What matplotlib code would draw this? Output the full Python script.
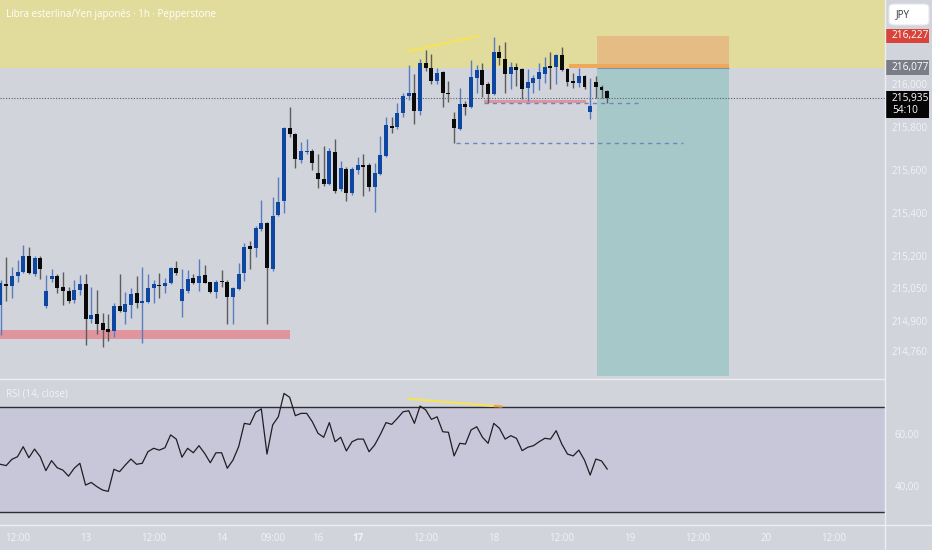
import numpy as np
import matplotlib
matplotlib.use('Agg')
import matplotlib.pyplot as plt
import matplotlib.transforms as mtransforms
from matplotlib.patches import Rectangle, FancyBboxPatch
from matplotlib.lines import Line2D

plt.rcParams['font.family'] = ['Open Sans', 'DejaVu Sans']

# --- OHLC (hourly bars, GBP/JPY) ---
opens = [214.972, 215.070, 215.062, 215.108, 215.126, 215.200, 215.119, 215.189, 214.969, 215.093,
         215.107, 215.054, 215.039, 214.994, 215.042, 215.069, 214.907, 214.930, 214.887, 214.861,
         214.853, 214.968, 214.941, 214.972, 215.027, 214.981, 214.987, 215.050, 215.064, 215.062,
         215.073, 215.143, 214.991, 215.037, 215.096, 215.073, 215.112, 215.078, 215.031, 215.084,
         215.078, 215.008, 215.047, 215.122, 215.247, 215.236, 215.324, 215.352, 215.138, 215.391,
         215.457, 215.797, 215.767, 215.647, 215.684, 215.690, 215.585, 215.558, 215.535, 215.685,
         215.510, 215.603, 215.494, 215.600, 215.623, 215.623, 215.522, 215.582, 215.665, 215.806,
         215.799, 215.864, 215.944, 215.960, 215.876, 216.099, 216.076, 216.016, 216.057, 215.960,
         215.836, 215.791, 215.907, 215.892, 216.027, 216.065, 216.000, 215.954, 216.147, 216.116,
         216.045, 216.078, 216.068, 215.983, 216.006, 216.022, 216.045, 216.081, 216.078, 216.135,
         216.068, 216.014, 216.003, 216.037, 215.871, 216.011, 215.985, 215.968]
highs = [215.088, 215.195, 215.150, 215.181, 215.251, 215.242, 215.201, 215.201, 215.112, 215.140,
         215.119, 215.127, 215.057, 215.088, 215.112, 215.115, 215.057, 215.042, 214.934, 214.929,
         214.980, 215.119, 215.034, 215.050, 215.108, 215.147, 215.115, 215.088, 215.122, 215.096,
         215.150, 215.178, 215.138, 215.135, 215.119, 215.185, 215.158, 215.081, 215.088, 215.135,
         215.088, 215.054, 215.166, 215.262, 215.271, 215.340, 215.461, 215.358, 215.476, 215.566,
         215.801, 215.894, 215.771, 215.732, 215.743, 215.697, 215.675, 215.712, 215.701, 215.743,
         215.643, 215.615, 215.613, 215.662, 215.675, 215.634, 215.634, 215.758, 215.845, 215.845,
         215.910, 215.960, 216.088, 216.047, 216.115, 216.158, 216.140, 216.073, 216.063, 216.016,
         215.871, 215.980, 215.922, 216.112, 216.088, 216.099, 216.011, 216.217, 216.181, 216.197,
         216.104, 216.096, 216.073, 216.068, 216.042, 216.099, 216.127, 216.150, 216.140, 216.171,
         216.073, 216.050, 216.073, 216.042, 216.027, 216.037, 215.996, 215.972]
lows = [214.833, 214.991, 215.005, 215.081, 215.122, 215.116, 215.108, 215.093, 214.960, 215.081,
        215.027, 214.972, 214.980, 214.980, 215.019, 214.786, 214.887, 214.836, 214.778, 214.805,
        214.825, 214.941, 214.883, 214.910, 214.957, 214.794, 214.980, 214.980, 215.005, 215.027,
        215.070, 215.112, 214.915, 215.030, 215.070, 215.037, 215.073, 215.027, 215.003, 215.057,
        214.884, 214.884, 215.042, 215.085, 215.138, 215.197, 215.318, 214.884, 215.132, 215.386,
        215.401, 215.755, 215.608, 215.634, 215.675, 215.600, 215.515, 215.526, 215.530, 215.494,
        215.504, 215.457, 215.484, 215.582, 215.479, 215.504, 215.406, 215.577, 215.662, 215.771,
        215.790, 215.845, 215.926, 215.814, 215.856, 216.062, 216.000, 216.000, 215.892, 215.918,
        215.724, 215.786, 215.856, 215.887, 215.957, 215.941, 215.913, 215.949, 216.088, 215.957,
        215.975, 215.991, 215.929, 215.922, 215.960, 215.972, 216.003, 215.975, 216.000, 216.062,
        215.991, 215.980, 215.985, 215.975, 215.836, 215.934, 215.934, 215.913]
closes = [215.074, 215.063, 215.108, 215.126, 215.200, 215.121, 215.192, 215.138, 215.037, 215.107,
          215.050, 215.037, 214.992, 215.042, 215.069, 214.907, 214.926, 214.883, 214.856, 214.848,
          214.968, 214.944, 214.975, 215.022, 214.980, 214.992, 215.053, 215.069, 215.061, 215.073,
          215.143, 215.122, 215.045, 215.092, 215.073, 215.108, 215.076, 215.031, 215.081, 215.079,
          215.011, 215.050, 215.119, 215.243, 215.233, 215.329, 215.355, 215.146, 215.386, 215.453,
          215.794, 215.767, 215.650, 215.690, 215.690, 215.634, 215.558, 215.535, 215.690, 215.504,
          215.608, 215.492, 215.603, 215.623, 215.615, 215.522, 215.585, 215.670, 215.809, 215.797,
          215.867, 215.944, 215.960, 215.876, 216.099, 216.073, 216.016, 216.053, 215.957, 215.954,
          215.794, 215.907, 215.894, 216.031, 216.065, 215.995, 215.954, 216.147, 216.119, 216.045,
          216.081, 216.065, 215.975, 216.011, 216.027, 216.057, 216.081, 216.076, 216.135, 216.065,
          216.008, 216.003, 216.037, 215.987, 215.898, 215.987, 215.972, 215.935]

# RSI (14, close)
rsi = [48.3, 47.8, 50.2, 51.2, 55.0, 50.8, 54.1, 51.2, 45.9, 49.7,
       47.0, 46.1, 43.8, 46.8, 48.7, 40.4, 41.4, 39.8, 38.5, 38.0,
       46.4, 45.5, 48.0, 50.3, 48.3, 48.7, 53.1, 54.4, 53.7, 54.6,
       59.5, 57.9, 51.0, 54.4, 52.7, 55.4, 52.5, 48.9, 52.7, 52.7,
       46.8, 49.9, 55.0, 63.9, 63.5, 68.1, 69.4, 52.2, 63.3, 66.4,
       75.3, 73.8, 66.8, 67.7, 67.7, 64.5, 60.1, 58.6, 64.2, 56.9,
       58.6, 53.4, 56.9, 57.9, 57.9, 53.1, 55.7, 59.7, 64.2, 63.5,
       65.8, 68.3, 68.7, 63.9, 70.5, 69.0, 65.4, 66.4, 60.7, 60.5,
       51.5, 56.3, 56.0, 61.4, 62.6, 58.6, 56.3, 63.9, 62.0, 57.9,
       59.2, 58.2, 53.5, 54.8, 55.4, 56.9, 58.2, 57.9, 61.1, 56.0,
       52.2, 51.5, 53.7, 49.9, 44.2, 50.3, 49.6, 46.5]

# time axis (bar index -> label)
time_ticks = [3, 15, 27, 39, 48, 56, 63, 75, 87, 99, 111, 123, 135, 147]
time_labels = ['12:00', '13', '12:00', '14', '09:00', '16', '17', '12:00',
               '18', '12:00', '19', '12:00', '20', '12:00']
price_ticks = [216.0, 215.8, 215.6, 215.4, 215.2, 215.05, 214.9, 214.76]
rsi_ticks = [60, 40]

# drawings: [x0, x1, low, high]
support_zone = [-1.0, 51.1, 214.813, 214.856]
small_zone = [85.3, 103.3, 215.913, 215.926]
supply_low = 216.075
stop_box = [105.2, 128.5, 216.074, 216.223]
target_box = [105.2, 128.5, 214.64, 216.074]
entry_bar = [100.3, 128.5, 216.074, 216.095]
dashed_levels = [(85.2, 112.4, 215.910), (80.3, 120.4, 215.724)]
price_trend_x, price_trend_y = [72.0, 84.2], [216.153, 216.223]
rsi_trend_x, rsi_trend_y = [72.0, 87.2], [73.2, 70.5]

last_price = 215.935
stop_price = 216.227
entry_price = 216.077

BG = '#d2d4dc'
LIGHT = '#f2f3f7'
BLUE = '#0d47a1'
W, H = 932, 550

fig = plt.figure(figsize=(W / 100, H / 100), dpi=100, facecolor=BG)
ax = fig.add_axes([0, 1 - 378 / H, 885 / W, 378 / H], facecolor=BG)
axr = fig.add_axes([0, 25 / H, 885 / W, 145 / H], facecolor=BG, sharex=ax)

o, h, l, c = map(np.array, (opens, highs, lows, closes))
x = np.arange(len(o))
up = c >= o

# background zones
ax.axhspan(supply_low, 217, color='#e1dc9b', zorder=0, lw=0)
for zone, col in [(support_zone, '#e0959e'), (small_zone, '#e0959e'),
                  (target_box, '#a7c8c9'), (stop_box, '#e6bc85'), (entry_bar, '#eea85a')]:
    ax.add_patch(Rectangle((zone[0], zone[2]), zone[1] - zone[0], zone[3] - zone[2],
                           facecolor=col, edgecolor='none', zorder=1))
ax.hlines(entry_price - 0.003, stop_box[0], stop_box[1], color='#7f93b0', lw=0.8, zorder=1)

for x0, x1, lvl in dashed_levels:
    ax.plot([x0, x1], [lvl, lvl], color='#6a86c0', lw=1, dashes=(3, 3), zorder=2)
ax.axhline(last_price, color='#5a5e6a', lw=0.8, ls=(0, (1, 1.5)), zorder=2)
ax.plot(price_trend_x, price_trend_y, color='#f5e35a', lw=1.6, zorder=2)

# candles
wick_cols = np.where(up, '#5a7bbd', '#5c5c5c')
body_cols = np.where(up, BLUE, '#0a0a0a')
ax.vlines(x, l, h, colors=wick_cols, lw=1.0, zorder=3)
ax.bar(x, np.maximum(np.abs(c - o), 0.006), bottom=np.minimum(o, c), width=0.7,
       color=body_cols, edgecolor='none', zorder=4)

ax.set_xlim(-0.09, 156.0)
ax.set_ylim(214.633, 216.391)
ax.yaxis.tick_right()
ax.set_yticks(price_ticks)
ax.set_yticklabels([f'{p:.3f}'.replace('.', ',') for p in price_ticks])
ax.tick_params(axis='y', length=0, pad=5, labelsize=7, labelcolor=LIGHT)
ax.tick_params(axis='x', length=0, labelbottom=False)
for s in ax.spines.values():
    s.set_visible(False)

# RSI pane
axr.axhspan(30, 70, color='#c8c7da', zorder=0, lw=0)
axr.axhline(70, color='#2e2e33', lw=1.0, zorder=1)
axr.axhline(30, color='#2e2e33', lw=1.0, zorder=1)
axr.plot(x, rsi, color='#1e1e22', lw=0.9, zorder=3)
axr.plot(rsi_trend_x, rsi_trend_y, color='#f5e35a', lw=1.6, zorder=2)
axr.plot([rsi_trend_x[1], rsi_trend_x[1] + 1.1], [rsi_trend_y[1], rsi_trend_y[1] - 0.2],
         color='#f0a040', lw=1.6, zorder=2)
axr.set_ylim(25.2, 80.4)
axr.yaxis.tick_right()
axr.set_yticks(rsi_ticks)
axr.set_yticklabels([f'{v:.2f}'.replace('.', ',') for v in rsi_ticks])
axr.tick_params(axis='y', length=0, pad=7, labelsize=7, labelcolor=LIGHT)
axr.set_xticks(time_ticks)
axr.set_xticklabels(time_labels)
axr.tick_params(axis='x', length=0, pad=6, labelsize=7, labelcolor=LIGHT)
for lab in axr.get_xticklabels():
    if lab.get_text() == '17':
        lab.set_fontweight('bold')
for s in axr.spines.values():
    s.set_visible(False)

# pane separators
for line in [Line2D([885 / W, 885 / W], [0, 1]),
             Line2D([0, 1], [1 - 525 / H] * 2),
             Line2D([0, 885 / W], [1 - 379 / H] * 2)]:
    line.set_color('#eceef3')
    line.set_linewidth(1.0)
    line.set_transform(fig.transFigure)
    fig.add_artist(line)

# price labels on the scale
tr = mtransforms.blended_transform_factory(fig.transFigure, ax.transData)
def price_tag(price, text, face, top, bottom, tcol='white'):
    ax.add_patch(Rectangle((886 / W, bottom), 43 / W, top - bottom, transform=tr,
                           facecolor=face, edgecolor='none', clip_on=False, zorder=6))
    ax.text(892 / W, (top + bottom) / 2, text, transform=tr, color=tcol, fontsize=7.3,
            va='center', ha='left', zorder=7, clip_on=False, linespacing=1.15)

price_tag(stop_price, f'{stop_price:.3f}'.replace('.', ','), '#d9443a',
          stop_price + 0.030, stop_price - 0.035)
price_tag(entry_price, f'{entry_price:.3f}'.replace('.', ','), '#7a7d88',
          entry_price + 0.033, entry_price - 0.036)
price_tag(last_price, f'{last_price:.3f}'.replace('.', ',') + '\n54:10', '#050505',
          last_price + 0.035, last_price - 0.092)

jpy = FancyBboxPatch((889 / W, 1 - 25 / H), 40 / W, 21 / H, transform=fig.transFigure,
                     boxstyle='round,pad=0,rounding_size=0.006', facecolor='white',
                     edgecolor='#e6e6ea', lw=0.8)
fig.add_artist(jpy)
fig.text(896 / W, 1 - 14.5 / H, 'JPY', color='#333340', fontsize=7, va='center')

fig.text(6 / W, 1 - 15 / H, 'Libra esterlina/Yen japonés · 1h · Pepperstone',
         color='white', fontsize=7, va='center')
fig.text(6 / W, 1 - 394 / H, 'RSI (14, close)', color=LIGHT, fontsize=7, va='center')

fig.savefig('out.png', dpi=100, facecolor=BG)
